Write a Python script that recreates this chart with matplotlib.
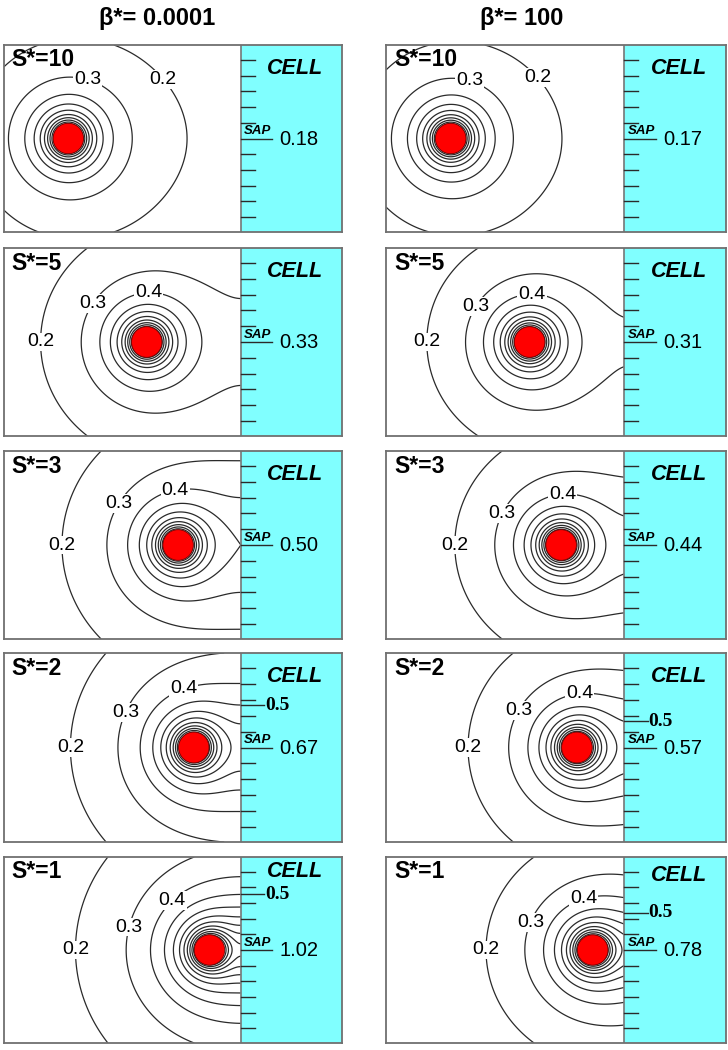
import numpy as np
import matplotlib
matplotlib.use("Agg")
import matplotlib.pyplot as plt

plt.rcParams['font.family'] = ['Liberation Sans', 'DejaVu Sans']

# dados do grafico
s_star = [10, 5, 3, 2, 1]
betas = ["0.0001", "100"]
sap = [
    [0.18, 0.33, 0.50, 0.67, 1.02],   # beta* = 0.0001
    [0.17, 0.31, 0.44, 0.57, 0.78],   # beta* = 100
]
niveis = [0.2, 0.3, 0.4, 0.5, 0.6, 0.7, 0.8, 0.9, 1.0, 1.1, 1.2, 1.3]
niveis_rotulo = [0.2, 0.3, 0.4]
nivel_celula = 0.5

# angulos (graus) onde ficam os rotulos 0.2 / 0.3 / 0.4 em cada linha
ang_rotulos = [
    {0.2: [32, 180, 180, 180, 180], 0.3: [72, 145, 145, 153, 164], 0.4: [None, 88, 93, 100, 127]},
    {0.2: [35, 180, 180, 180, 180], 0.3: [72, 147, 152, 148, 156], 0.4: [None, 87, 88, 87, 100]},
]
# altura do texto CELL em cada linha
y_cell = [[4.45, 4.45, 4.45, 4.45, 5.0], [4.45, 4.45, 4.45, 4.45, 4.75]]

XMIN, XMAX = -15.1, 6.45
YMIN, YMAX = -5.95, 5.95
CIANO = '#80FFFF'
CINZA = '#2a2a2a'


def campo(x, y, d, k):
    # fonte pontual a distancia d da parede + imagem de intensidade k
    r1 = np.hypot(x + d, y)
    r2 = np.hypot(x - d, y)
    return 1.0 / r1 + k / r2


def ponto_no_nivel(nivel, ang, d, k):
    a = np.radians(ang)
    lo, hi = 1.0, 40.0
    for _ in range(60):
        m = 0.5 * (lo + hi)
        x = -d + m * np.cos(a)
        y = m * np.sin(a)
        if campo(x, y, d, k) > nivel:
            lo = m
        else:
            hi = m
    return -d + lo * np.cos(a), lo * np.sin(a)


fig = plt.figure(figsize=(7.28, 10.5), dpi=100)
W, H = 728.0, 1050.0
colunas = [(4, 342), (386, 726)]
linhas = [(45, 232), (248, 436), (451, 639), (653, 842), (857, 1043)]

xs = np.linspace(XMIN, 0, 700)
ys = np.linspace(YMIN, YMAX, 450)
X, Y = np.meshgrid(xs, ys)

for c, (x0, x1) in enumerate(colunas):
    for i, (y0, y1) in enumerate(linhas):
        ax = fig.add_axes([x0 / W, 1 - y1 / H, (x1 - x0) / W, (y1 - y0) / H])
        d = 1.0 + s_star[i]
        k = sap[c][i] * d - 1.0

        C = campo(X, Y, d, k)
        C = np.where(np.hypot(X + d, Y) < 0.8, np.nan, C)
        ax.contour(X, Y, C, levels=niveis, colors=CINZA, linewidths=0.9)

        # celula
        ax.axvspan(0, XMAX, color=CIANO, zorder=3)
        ax.axvline(0, color='#777777', lw=1.2, zorder=4)
        for t in [-5, -4, -3, -2, -1, 1, 2, 3, 4, 5]:
            ax.plot([0, 0.9], [t, t], color=CINZA, lw=1.0, zorder=5)
        ax.plot([0, 2.0], [0, 0], color=CINZA, lw=1.0, zorder=5)
        ax.text(0.2, 0.08, "SAP", fontsize=9.5, fontweight='bold', style='italic',
                ha='left', va='bottom', zorder=6)
        ax.text(2.45, -0.05, f"{sap[c][i]:.2f}", fontsize=14.5, ha='left', va='center', zorder=6)
        ax.text(3.45, y_cell[c][i], "CELL", fontsize=15.5, fontweight='bold', style='italic',
                ha='center', va='center', zorder=6)

        # fonte (circulo vermelho)
        ax.add_patch(plt.Circle((-d, 0), 0.97, fc='#FF0000', ec='#7a0000', lw=0.6, zorder=7))

        # rotulos das isolinhas
        for nv in niveis_rotulo:
            ang = ang_rotulos[c][nv][i]
            if ang is None:
                continue
            px, py = ponto_no_nivel(nv, ang, d, k)
            ax.text(px, py, f"{nv:.1f}", fontsize=14, ha='center', va='center', zorder=6,
                    bbox=dict(boxstyle='square,pad=0.05', fc='white', ec='none'))

        # rotulo 0.5 na parede
        if (1.0 + k) / d > nivel_celula + 0.01:
            yy = np.sqrt(((1.0 + k) / nivel_celula) ** 2 - d ** 2)
            ax.plot([0, 1.5], [yy, yy], color=CINZA, lw=1.0, zorder=5)
            ax.text(1.55, yy, "0.5", fontsize=14, fontweight='bold', family='Liberation Serif',
                    ha='left', va='center', zorder=6)

        ax.text(XMIN + 0.5, 5.0, f"S*={s_star[i]}", fontsize=16.5, fontweight='bold',
                ha='left', va='center', zorder=6)

        ax.set_xlim(XMIN, XMAX)
        ax.set_ylim(YMIN, YMAX)
        ax.set_xticks([])
        ax.set_yticks([])
        for sp in ax.spines.values():
            sp.set_color('#707070')
            sp.set_linewidth(1.3)
            sp.set_zorder(8)

fig.text(157 / W, 1 - 18 / H, f"β*= {betas[0]}", fontsize=17, fontweight='bold', ha='center', va='center')
fig.text(522 / W, 1 - 18 / H, f"β*= {betas[1]}", fontsize=17, fontweight='bold', ha='center', va='center')

fig.savefig("out.png", dpi=100)
